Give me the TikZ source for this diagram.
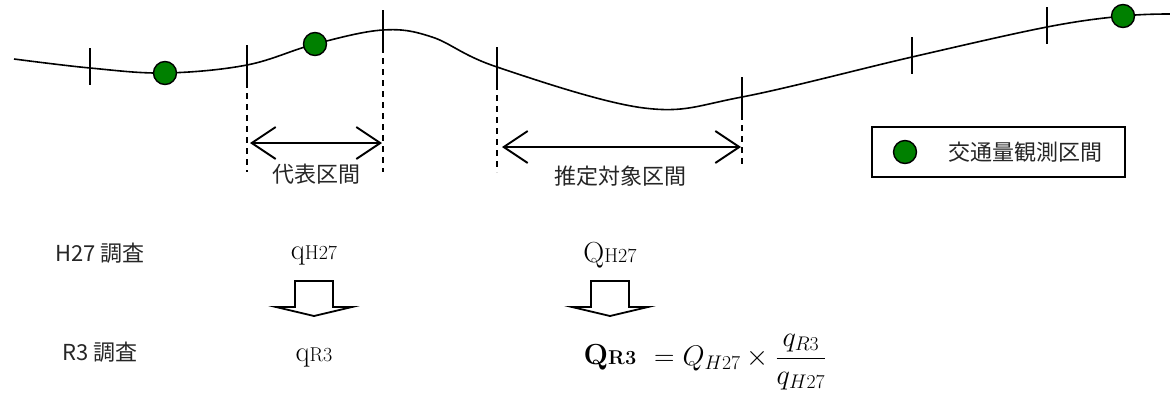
\documentclass[tikz,border=0pt]{standalone}
\usepackage{fontspec}
\usepackage{amsmath}
\usepackage{tikz}
\usetikzlibrary{arrows.meta,positioning,calc}
\newfontfamily\jp{Noto Sans CJK JP}
\definecolor{Dot}{HTML}{008000}

\begin{document}
\begin{tikzpicture}[x=1pt,y=-1pt,
    road/.style={line width=1.6pt},
    tk/.style={line width=1.4pt},
    guide/.style={dashed,dash pattern=on 6pt off 5pt,line width=1.2pt},
    span/.style={{Straight Barb[length=24pt,width=32pt]}-{Straight Barb[length=24pt,width=32pt]},line width=1.9pt},
    dot/.style={circle,draw,fill=Dot,line width=1.4pt,minimum size=23pt,inner sep=0pt},
    lbl/.style={font=\jp\fontsize{22}{22}\selectfont,inner sep=0pt,text=black!85},
    qv/.style={font=\fontsize{29}{29}\selectfont,inner sep=0pt},
    bk/.style={line width=1.8pt,line join=miter}]
    \useasboundingbox (0,0) rectangle (1170,397);
    % points on the road
    \coordinate (s0) at (14,59);
    \coordinate (t1) at (90,68);
    \coordinate (p1) at (165,73);
    \coordinate (t2) at (247,65);
    \coordinate (p2) at (315,44);
    \coordinate (t3) at (383,30);
    \coordinate (top) at (432,37);
    \coordinate (t4) at (497,67);
    \coordinate (low) at (644,108);
    \coordinate (t5) at (742,97);
    \coordinate (t6) at (912,57);
    \coordinate (t7) at (1047,27);
    \coordinate (p3) at (1123,16);
    \coordinate (s1) at (1170,14);
    \draw[road] plot[smooth,tension=0.6] coordinates {(s0) (t1) (p1) (t2) (p2) (t3) (top) (t4) (low) (t5) (t6) (t7) (p3) (s1)};
    \foreach \t in {t1,t2,t3,t4,t5,t6,t7}
      \draw[tk] ($(\t)+(0,-20)$) -- ($(\t)+(0,17)$);
    \foreach \t in {t2,t3,t4}
      \draw[guide] ($(\t)+(0,17)$) -- (\t |- 0,172);
    \draw[guide] ($(t5)+(0,17)$) -- (t5 |- 0,168);
    \node[dot] (d1) at (p1) {};
    \node[dot] (d2) at (p2) {};
    \node[dot] (d3) at (p3) {};
    % sections
    \coordinate (a1) at (t2 |- 0,143); \coordinate (a2) at (t3 |- 0,143);
    \coordinate (b1) at (t4 |- 0,147); \coordinate (b2) at (t5 |- 0,147);
    \draw[span] ([xshift=3pt]a1) -- ([xshift=-1pt]a2);
    \draw[span] ([xshift=5pt]b1) -- ([xshift=-1pt]b2);
    \node[lbl] (rep) at (316,174) {代表区間};
    \node[lbl] (est) at (620,176) {推定対象区間};
    % legend
    \node[draw,line width=1.4pt,minimum width=253pt,minimum height=50pt] (key) at (998.5,152) {};
    \node[dot] (kd) at (905,152) {};
    \node[lbl] (kt) at (1025,152) {交通量観測区間};
    % surveys
    \node[lbl] (h27) at (100,253) {H27 調査};
    \node[lbl] (r3) at (100,352) {R3 調査};
    \node[qv] (qh) at (314,255) {q{\fontsize{20}{20}\selectfont H27}};
    \node[qv] (qr) at (314,357) {q{\fontsize{20}{20}\selectfont R3}};
    \node[qv] (Qh) at (610,255) {Q{\fontsize{20}{20}\selectfont H27}};
    \node[qv] (Qr) at (610,357) {\bfseries Q{\fontsize{20}{20}\selectfont R3}};
    \node[anchor=west,inner sep=0pt,scale=1.14,font=\fontsize{24}{24}\selectfont] (eq) at (654,362) {$=Q_{H27}\times\dfrac{q_{R3}}{q_{H27}}$};
    \draw[bk] ($(qh)+(-19,26)$) -- ++(38,0) -- ++(0,26) -- ++(19,0) -- ++(-38,9) -- ++(-38,-9) -- ++(19,0) -- cycle;
    \draw[bk] ($(Qh)+(-19,26)$) -- ++(38,0) -- ++(0,26) -- ++(19,0) -- ++(-38,9) -- ++(-38,-9) -- ++(19,0) -- cycle;
\end{tikzpicture}
\end{document}
